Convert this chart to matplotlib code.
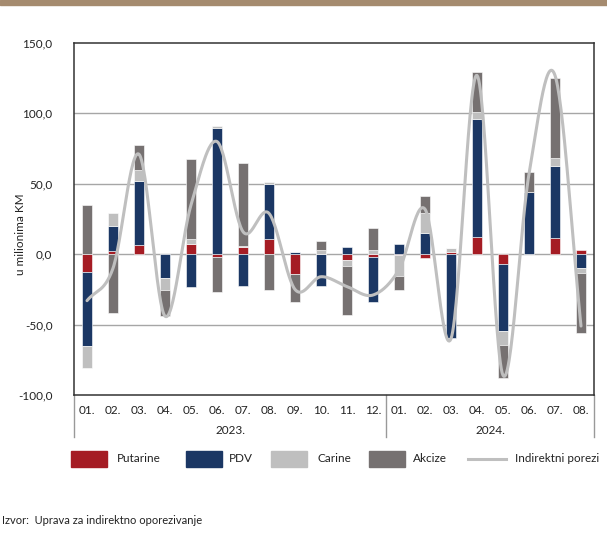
import numpy as np
import matplotlib
matplotlib.use("Agg")
import matplotlib.pyplot as plt
from matplotlib.patches import Rectangle
from matplotlib.lines import Line2D

plt.rcParams['font.family'] = ['Lato', 'DejaVu Sans']

months = ["01.", "02.", "03.", "04.", "05.", "06.", "07.", "08.", "09.", "10.", "11.", "12.",
          "01.", "02.", "03.", "04.", "05.", "06.", "07.", "08."]
years = ["2023.", "2024."]
year_counts = [12, 8]

putarine = [-12.3, 2.4, 6.6, 0.0, 7.3, -1.7, 5.4, 10.9, -14.2, 0.0, -4.0, -1.7,
            -0.8, -2.8, 1.9, 12.5, -7.1, 0.0, 11.3, 3.1]
pdv = [-53.0, 17.7, 45.4, -17.0, -23.6, 89.4, -22.5, 38.8, 1.9, -22.9, 5.4, -31.9,
       7.1, 15.4, -59.6, 83.5, -47.8, 44.4, 51.3, -9.5]
carine = [-15.6, 9.5, 7.8, -8.3, 3.5, 1.9, 0.7, 1.9, 0.0, 3.1, -4.7, 3.1,
          -15.0, 14.2, 2.4, 5.2, -9.9, 0.0, 5.9, -4.0]
akcize = [35.0, -41.8, 17.7, -18.4, 56.5, -24.8, 58.4, -25.3, -20.1, 6.4, -34.3, 15.4,
          -9.5, 12.0, 0.0, 28.4, -23.2, 13.7, 56.3, -42.6]
indirektni = [-33.0, -10.0, 71.0, -44.0, 35.0, 80.0, 16.0, 29.0, -25.0, -16.0, -23.0, -29.0,
              -11.0, 32.0, -60.0, 127.0, -86.0, 57.0, 127.0, -51.0]

series = [("Putarine", putarine, "#A51C24"),
          ("PDV", pdv, "#1B3764"),
          ("Carine", carine, "#BFBFBF"),
          ("Akcize", akcize, "#767171")]
line_name = "Indirektni porezi"
line_color = "#BFBFBF"

W, H = 607, 533
fig = plt.figure(figsize=(W / 100, H / 100), dpi=100)
ax = fig.add_axes([74 / W, 1 - 395 / H, (594 - 74) / W, (395 - 43) / H])

# top brown band
fig.patches.append(Rectangle((0, 1 - 5 / H), 1, 5 / H, transform=fig.transFigure,
                             color="#A58B6F", zorder=0))

x = np.arange(len(months))
pos_base = np.zeros(len(x))
neg_base = np.zeros(len(x))
for name, vals, col in series:
    v = np.array(vals)
    base = np.where(v >= 0, pos_base, neg_base)
    ax.bar(x, v, bottom=base, width=0.42, color=col, edgecolor="white", linewidth=0.4, zorder=3)
    pos_base = pos_base + np.where(v > 0, v, 0)
    neg_base = neg_base + np.where(v < 0, v, 0)

# smoothed line (Catmull-Rom)
def catmull_rom(xs, ys, n=30):
    xs = np.asarray(xs, float); ys = np.asarray(ys, float)
    px = np.concatenate([[2 * xs[0] - xs[1]], xs, [2 * xs[-1] - xs[-2]]])
    py = np.concatenate([[2 * ys[0] - ys[1]], ys, [2 * ys[-1] - ys[-2]]])
    ox, oy = [], []
    for i in range(1, len(px) - 2):
        t = np.linspace(0, 1, n, endpoint=False)
        for arr, out in ((px, ox), (py, oy)):
            p0, p1, p2, p3 = arr[i - 1], arr[i], arr[i + 1], arr[i + 2]
            out.extend(0.5 * ((2 * p1) + (-p0 + p2) * t + (2 * p0 - 5 * p1 + 4 * p2 - p3) * t ** 2
                              + (-p0 + 3 * p1 - 3 * p2 + p3) * t ** 3))
    ox.append(xs[-1]); oy.append(ys[-1])
    return np.array(ox), np.array(oy)

sx, sy = catmull_rom(x, indirektni)
ax.plot(sx, sy, color=line_color, linewidth=2.2, zorder=5, solid_capstyle="round")

ax.set_xlim(-0.5, len(x) - 0.5)
ax.set_ylim(-100, 150)
yt = [-100, -50, 0, 50, 100, 150]
ax.set_yticks(yt)
ax.set_yticklabels([f"{v:.1f}".replace(".", ",") for v in yt], fontsize=8.5, color="#222222")
ax.tick_params(axis="y", length=0, pad=15.5)
ax.set_xticks([])
for v in [-50, 0, 50, 100]:
    ax.axhline(v, color="#A6A6A6", linewidth=1.0, zorder=1)
for s in ax.spines.values():
    s.set_color("#333333")
    s.set_linewidth(1.1)

fig.text(21 / W, 1 - 234 / H, "u milionima KM", rotation=90, fontsize=8.5, color="#222222",
         ha="center", va="center")

# category labels
trans = ax.get_xaxis_transform()
for i, m in enumerate(months):
    ax.text(i, -0.045, m, transform=trans, ha="center", va="center", fontsize=8.5, color="#222222")
start = 0
seps = [-0.5]
for yname, cnt in zip(years, year_counts):
    ax.text(start + (cnt - 1) / 2, -0.101, yname, transform=trans, ha="center", va="center",
            fontsize=8.5, color="#222222")
    start += cnt
    seps.append(start - 0.5)
for sxp in seps:
    ax.plot([sxp, sxp], [0, -0.119], transform=trans, color="#999999", linewidth=1.0, clip_on=False)

# legend (manual placement)
ly = 1 - 459 / H
ph = 15.5 / H
patch_x = [71, 186, 271, 369]
text_x = [117, 229, 318, 413]
for (name, _, col), px_, tx in zip(series, patch_x, text_x):
    fig.patches.append(Rectangle((px_ / W, ly - ph / 2), 35.5 / W, ph, transform=fig.transFigure,
                                 color=col))
    fig.text(tx / W, ly, name, fontsize=8.5, color="#222222", va="center", ha="left")
fig.lines.append(Line2D([468 / W, 506 / W], [ly, ly], transform=fig.transFigure,
                        color=line_color, linewidth=2.2))
fig.text(515 / W, ly, line_name, fontsize=8.4, color="#222222", va="center", ha="left")

fig.text(2 / W, 1 - 521 / H, "Izvor:  Uprava za indirektno oporezivanje", fontsize=8,
         color="#222222", va="center", ha="left")

fig.savefig("out.png", dpi=100)
